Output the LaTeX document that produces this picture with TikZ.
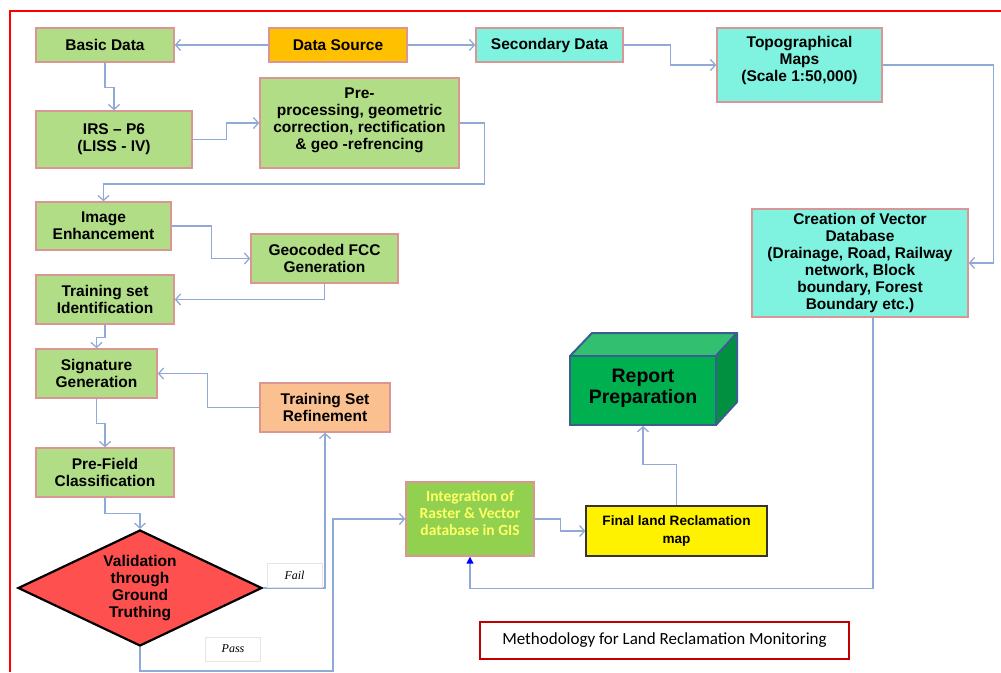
\documentclass[tikz,border=0pt]{standalone}
\usepackage{fontspec}
\setmainfont{Liberation Sans}
\newfontfamily\calib{Carlito}
\newfontfamily\tms{Liberation Serif}
\usetikzlibrary{arrows.meta,shapes.geometric,calc}
\definecolor{bxgreen}{RGB}{178,221,135}
\definecolor{bxorange}{RGB}{255,192,0}
\definecolor{bxaqua}{RGB}{128,242,224}
\definecolor{bxpeach}{RGB}{250,192,144}
\definecolor{bxint}{RGB}{146,208,80}
\definecolor{inttext}{RGB}{255,255,102}
\definecolor{bxred}{RGB}{255,80,80}
\definecolor{repfront}{RGB}{0,176,80}
\definecolor{reptop}{RGB}{50,192,112}
\definecolor{repside}{RGB}{0,144,64}
\definecolor{repedge}{RGB}{58,95,143}
\definecolor{bxborder}{RGB}{217,150,148}
\definecolor{connc}{RGB}{143,170,215}
\definecolor{titlered}{RGB}{192,0,0}
\begin{document}
\begin{tikzpicture}[x=1pt,y=-1pt,
  box/.style={draw=bxborder,line width=1.4pt,inner sep=0pt,align=center,
    font=\bfseries\fontsize{15.5}{17}\selectfont},
  conn/.style={draw=connc,line width=1.5pt,-{Straight Barb[length=5pt,width=11pt,line width=1.3pt]}},
  lbl/.style={draw=gray!20,fill=white,inner sep=0pt,minimum width=55pt,minimum height=24pt,
    font=\tms\itshape\fontsize{12}{14}\selectfont}]
\useasboundingbox (0,0) rectangle (1001,672);
% outer frame
\draw[red,line width=2pt] (10,672) -- (10,11) -- (1001,11);
% boxes
\node[box,fill=bxgreen,minimum width=138pt,minimum height=34pt] (bd) at (105,45) {Basic Data};
\node[box,fill=bxorange,minimum width=138pt,minimum height=34pt] (ds) at (338,45) {Data Source};
\node[box,fill=bxaqua,minimum width=147pt,minimum height=34pt] (sec) at (549.5,45) {Secondary Data};
\node[box,fill=bxaqua,minimum width=165pt,minimum height=74pt] (topo) at (799.5,65) {Topographical\\Maps\\(Scale 1:50,000)\\[-5pt]};
\node[box,fill=bxgreen,minimum width=156pt,minimum height=57pt] (irs) at (114,139.5) {IRS – P6\\(LISS - IV)};
\node[box,fill=bxgreen,minimum width=199pt,minimum height=90pt] (pre) at (359.5,123) {Pre-\\processing, geometric\\correction, rectification\\\& geo -refrencing\\[-8pt]};
\node[box,fill=bxgreen,minimum width=135pt,minimum height=48pt] (ie) at (103.5,226) {Image\\Enhancement};
\node[box,fill=bxgreen,minimum width=147pt,minimum height=49pt] (geo) at (324.5,258.5) {Geocoded FCC\\Generation};
\node[box,fill=bxgreen,minimum width=138pt,minimum height=49pt] (ts) at (105,299.5) {Training set\\Identification};
\node[box,fill=bxgreen,minimum width=121pt,minimum height=49pt] (sig) at (96.5,373.5) {Signature\\Generation};
\node[box,fill=bxpeach,minimum width=130pt,minimum height=49pt] (ref) at (325,407.5) {Training Set\\Refinement};
\node[box,fill=bxgreen,minimum width=138pt,minimum height=49pt] (pf) at (105,472.5) {Pre-Field\\Classification};
\node[box,diamond,draw=black,line width=2.2pt,fill=bxred,aspect=2.1,minimum width=244pt,minimum height=116pt] (val) at (140,588) {Validation\\through\\Ground\\Truthing};
\node[box,fill=bxaqua,minimum width=216pt,minimum height=108pt] (cv) at (860,263) {Creation of Vector\\Database\\(Drainage, Road, Railway\\network, Block\\boundary, Forest\\Boundary etc.)};
\node[box,fill=bxint,text=inttext,font=\calib\bfseries\fontsize{15.5}{17}\selectfont,minimum width=128pt,minimum height=74pt] (int) at (470,519) {Integration of\\Raster \& Vector\\database in GIS\\[-5pt]};
\node[box,draw=black!80,line width=1.2pt,fill=yellow,font=\bfseries\fontsize{13.6}{18}\selectfont,minimum width=181pt,minimum height=50pt] (fin) at (676.5,531) {Final land Reclamation\\map};
% report 3D box
\fill[reptop,draw=repedge,line width=2pt,line join=round] (570,356) -- (592,333) -- (737,333) -- (716,356) -- cycle;
\fill[repside,draw=repedge,line width=2pt,line join=round] (716,356) -- (737,333) -- (737,402) -- (716,425) -- cycle;
\node[box,draw=repedge,line width=2pt,fill=repfront,font=\bfseries\fontsize{19.5}{21}\selectfont,minimum width=146pt,minimum height=69pt] (rep) at (643,390.5) {Report\\Preparation\\[-12pt]};
% title
\node[draw=titlered,line width=2.5pt,minimum width=369pt,minimum height=37pt,inner sep=0pt,font=\calib\fontsize{17}{20}\selectfont] (title) at (664.5,640.5) {Methodology for Land Reclamation Monitoring};
% connectors
\draw[conn] (ds.west) -- (bd.east);
\draw[conn] (ds.east) -- (sec.west);
\draw[conn] (sec.east) -- ++(47,0) |- (topo.west);
\draw[conn] (topo.east) -- ++(111,0) |- (cv.east);
\draw[conn] (bd.south) -- ++(0,25) -| (irs.north);
\draw[conn] (irs.east) -- ++(34,0) |- (pre.west);
\draw[conn] (pre.east) -- ++(25,0) -- ++(0,61) -| (ie.north);
\draw[conn] (ie.east) -- ++(40,0) |- (geo.west);
\draw[conn] (geo.south) |- (ts.east);
\draw[conn] (ts.south) -- ++(0,13) -| (sig.north);
\draw[conn] (ref.west) -- ++(-52,0) |- (sig.east);
\draw[conn] (sig.south) -- ++(0,25) -| (pf.north);
\draw[conn] (pf.south) -- ++(0,16) -| (val.north);
\draw[conn] (val.east) -| (ref.south);
\draw[conn] (val.south) -- ++(0,24) -- ++(193,0) |- (int.west);
\draw[conn] (int.east) -- ++(26,0) |- (fin.west);
\draw[conn] (fin.north) -- ++(0,-41) -| (rep.south);
\draw[draw=connc,line width=1.5pt,-{Triangle[length=7pt,width=7pt,color=blue]}] ([xshift=13pt]cv.south) -- ++(0,271) -| (int.south);
% labels
\node[lbl] (fail) at (294.5,575) {Fail};
\node[lbl] (pass) at (233,649) {Pass};
\end{tikzpicture}
\end{document}
